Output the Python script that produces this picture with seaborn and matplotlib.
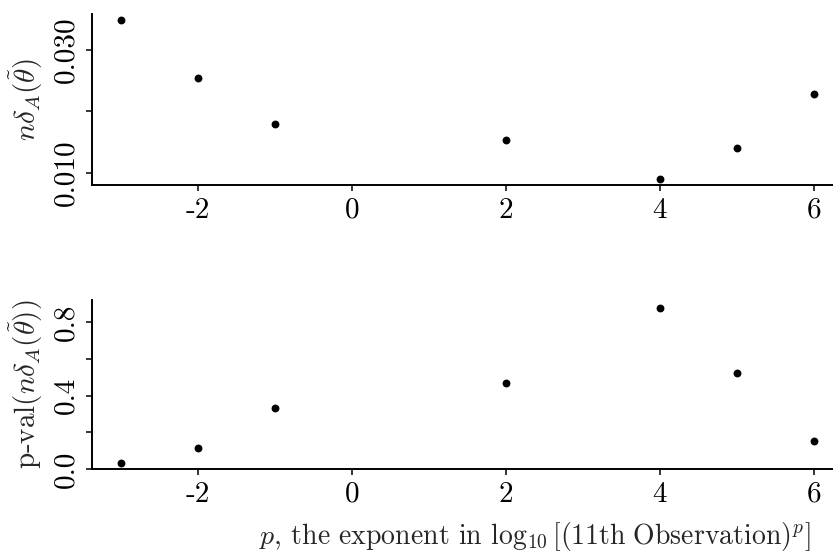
import matplotlib
matplotlib.use("Agg")
import matplotlib.pyplot as plt
import seaborn as sns
import pandas as pd

# Data
p_exponent = [-3, -2, -1, 2, 4, 5, 6]
n_delta = [0.0349, 0.0254, 0.0180, 0.0153, 0.0089, 0.0141, 0.0229]
p_values = [0.033, 0.114, 0.33, 0.468, 0.876, 0.52, 0.15]

x_ticks = [-2, 0, 2, 4, 6]
x_tick_labels = ["-2", "0", "2", "4", "6"]
top_y_ticks = [0.010, 0.020, 0.030]
top_y_labels = ["0.010", "", "0.030"]
bot_y_ticks = [0.0, 0.2, 0.4, 0.6, 0.8]
bot_y_labels = ["0.0", "", "0.4", "", "0.8"]

df = pd.DataFrame({"p": p_exponent, "nd": n_delta, "pval": p_values})

sns.set_theme(style="ticks")
plt.rcParams["font.family"] = ["cmr10", "DejaVu Serif"]
plt.rcParams["mathtext.fontset"] = "cm"
plt.rcParams["axes.unicode_minus"] = False
plt.rcParams["axes.formatter.use_mathtext"] = True

W, H = 833, 560
fig = plt.figure(figsize=(W / 100, H / 100), dpi=100)
ax1 = fig.add_axes([92 / W, 1 - 185 / H, (833 - 92) / W, (185 - 14) / H])
ax2 = fig.add_axes([92 / W, 1 - 469 / H, (833 - 92) / W, (469 - 300) / H])

fs = 21
for ax, col, yt, yl, ylim in [
    (ax1, "nd", top_y_ticks, top_y_labels, (0.008, 0.0359)),
    (ax2, "pval", bot_y_ticks, bot_y_labels, (0.0, 0.92)),
]:
    sns.scatterplot(data=df, x="p", y=col, ax=ax, color="black", s=32,
                    edgecolor="black", linewidth=0, legend=False)
    ax.set_xlim(-3.38, 6.25)
    ax.set_ylim(*ylim)
    ax.set_xticks(x_ticks)
    ax.set_xticklabels(x_tick_labels, fontsize=fs)
    ax.set_yticks(yt)
    ax.set_yticklabels(yl, fontsize=fs, rotation=90, va="center")
    for s in ["top", "right"]:
        ax.spines[s].set_visible(False)
    ax.spines["left"].set_linewidth(1.4)
    ax.spines["bottom"].set_linewidth(1.4)
    ax.spines["left"].set_color("black")
    ax.spines["bottom"].set_color("black")
    ax.tick_params(axis="both", direction="out", length=4, width=1.1,
                   color="black", labelcolor="black", pad=5)
    ax.set_facecolor("white")
    ax.set_xlabel("")

ax1.set_ylabel(r"$n\delta_A(\tilde{\theta})$", fontsize=fs, labelpad=6)
ax2.set_ylabel(r"p-val$(n\delta_A(\tilde{\theta}))$", fontsize=fs, labelpad=6)
ax2.set_xlabel(r"$p$, the exponent in $\log_{10}[(\mathrm{11th\ Observation})^p]$",
               fontsize=20, labelpad=8)
ax2.xaxis.set_label_coords(0.598, -0.3)

fig.savefig("out.png", dpi=100, facecolor="white")
